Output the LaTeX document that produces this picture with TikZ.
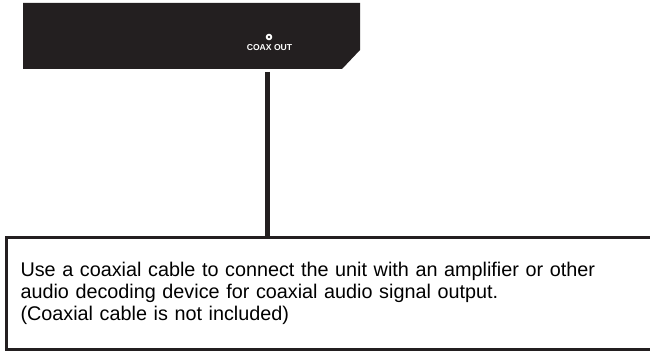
\documentclass[tikz,border=0pt]{standalone}
\usepackage{fontspec}
\setmainfont{Liberation Sans}
\definecolor{panelgray}{HTML}{231F20}

\begin{document}
\begin{tikzpicture}[x=1pt, y=-1pt]
  \tikzset{every node/.style={inner sep=0pt},
    notebox/.style={draw=panelgray, line width=3pt, anchor=north west, align=left,
      text width=616pt, inner xsep=14.5pt, minimum height=111.5pt,
      font=\fontsize{19.8}{22}\selectfont},
    cable/.style={draw=panelgray, line width=5pt}}
  \clip (0,0) rectangle (650,352);
  % rear panel
  \fill[panelgray] (23,3) -- (360,3) -- (360,50) -- (342,69) -- (23,69) -- cycle;
  \node[circle, fill=white, minimum size=6.6pt] (jack) at (269,37) {};
  \fill[panelgray] (jack) circle (1.3);
  \node[text=white, font=\bfseries\fontsize{8.6}{10}\selectfont] (coax) at (269.5,48) {COAX OUT};
  % note
  \node[notebox] (note) at (4.5,236.5) {Use a coaxial cable to connect the unit with an amplifier or other\\
    audio decoding device for coaxial audio signal output.\\
    (Coaxial cable is not included)};
  \coordinate (plug) at (267,72);
  \draw[cable] (plug) -- (plug |- note.north);
\end{tikzpicture}
\end{document}
